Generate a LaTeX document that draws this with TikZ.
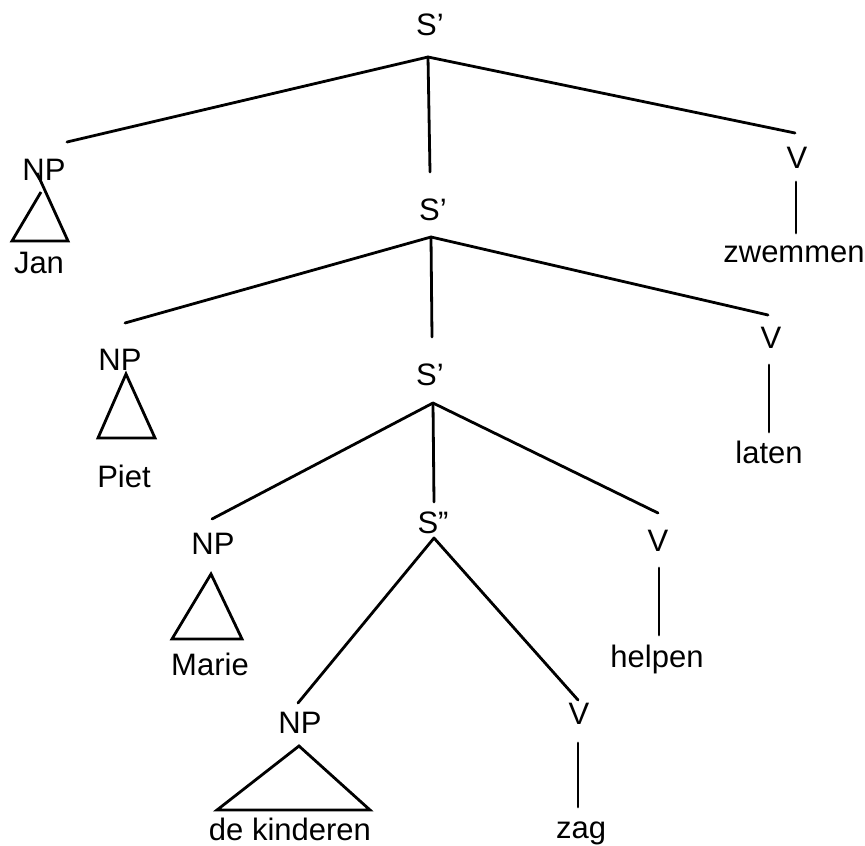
\documentclass[tikz,border=0pt]{standalone}
\usepackage{fontspec}
\setmainfont{Liberation Sans}
\newcommand{\sq}{{\char"27}}
\newcommand{\dq}{{\char"22}}
\begin{document}
\begin{tikzpicture}[x=1pt,y=-1pt,
  lbl/.style={anchor=base,inner sep=0pt,font=\fontsize{31}{35}\selectfont},
  edge/.style={line width=2.8pt,line cap=round,line join=round},
  tri/.style={line width=2.8pt,line join=miter}]
\useasboundingbox[fill=white] (0,0) rectangle (865,846);

% labels
\node[lbl] (s1) at (430,35) {S\sq};
\node[lbl] (np1) at (44,180) {NP};
\node[lbl] (v1) at (797,168) {V};
\node[lbl] (jan) at (39,273) {Jan};
\node[lbl] (zw) at (794,262) {zwemmen};

\node[lbl] (s2) at (433,220) {S\sq};
\node[lbl] (np2) at (120,370) {NP};
\node[lbl] (v2) at (771,348) {V};
\node[lbl] (piet) at (124,487) {Piet};
\node[lbl] (laten) at (769,463) {laten};

\node[lbl] (s3) at (430,385) {S\sq};
\node[lbl] (np3) at (213,554) {NP};
\node[lbl] (v3) at (658,551) {V};
\node[lbl] (marie) at (210,675) {Marie};
\node[lbl] (helpen) at (657,667) {helpen};

\node[lbl] (s4) at (433,533) {S\dq};
\node[lbl] (np4) at (300,733) {NP};
\node[lbl] (v4) at (579,724) {V};
\node[lbl] (kind) at (290,840) {de kinderen};
\node[lbl] (zag) at (581,838) {zag};

% connector points
\coordinate (a1) at (428,57);
\coordinate (e1l) at (67,142);
\coordinate (e1m) at (430,172);
\coordinate (e1r) at (795,133);
\coordinate (v1t) at (796,182);
\coordinate (v1b) at (796,233);

\coordinate (a2) at (431,237);
\coordinate (e2l) at (125,323);
\coordinate (e2m) at (432,337);
\coordinate (e2r) at (768,315);
\coordinate (v2t) at (769,365);
\coordinate (v2b) at (769,432);

\coordinate (a3) at (433,403);
\coordinate (e3l) at (212,519);
\coordinate (e3m) at (434,502);
\coordinate (e3r) at (658,513);
\coordinate (v3t) at (659,568);
\coordinate (v3b) at (659,635);

\coordinate (a4) at (434,538);
\coordinate (e4l) at (298,703);
\coordinate (e4r) at (578,700);
\coordinate (v4t) at (578,743);
\coordinate (v4b) at (578,807);

% branches
\draw[edge] (e1l) -- (a1) -- (e1r);
\draw[edge] (a1) -- (e1m);
\draw[edge] (v1t) -- (v1b);

\draw[edge] (e2l) -- (a2) -- (e2r);
\draw[edge] (a2) -- (e2m);
\draw[edge] (v2t) -- (v2b);

\draw[edge] (e3l) -- (a3) -- (e3r);
\draw[edge] (a3) -- (e3m);
\draw[edge] (v3t) -- (v3b);

\draw[edge] (e4l) -- (a4) -- (e4r);
\draw[edge] (v4t) -- (v4b);

% triangles
\coordinate (t1a) at (41,192);
\coordinate (t1b) at (37,173);
\coordinate (t1l) at (12,241);
\coordinate (t1r) at (68,241);
\draw[tri] (t1a) -- (t1l) -- (t1r) -- (t1b);

\coordinate (t2a) at (126,374);
\coordinate (t2l) at (98,438);
\coordinate (t2r) at (155,438);
\draw[tri] (t2a) -- (t2l) -- (t2r) -- cycle;

\coordinate (t3a) at (211,574);
\coordinate (t3l) at (172,639);
\coordinate (t3r) at (242,639);
\draw[tri] (t3a) -- (t3l) -- (t3r) -- cycle;

\coordinate (t4a) at (299,746);
\coordinate (t4l) at (217,810);
\coordinate (t4r) at (370,810);
\draw[tri] (t4a) -- (t4l) -- (t4r) -- cycle;
\end{tikzpicture}
\end{document}
